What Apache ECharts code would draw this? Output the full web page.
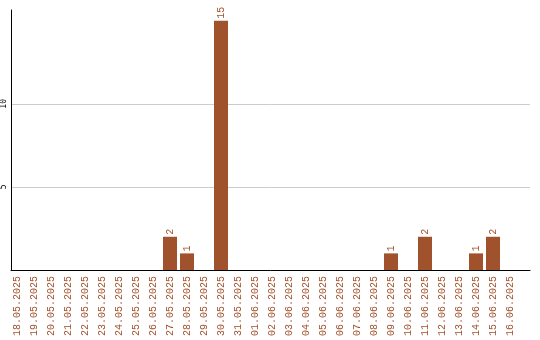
<!DOCTYPE html>
<html><head><meta charset="utf-8">
<script src="https://cdn.jsdelivr.net/npm/echarts@6/dist/echarts.min.js"></script>
<style>html,body{margin:0;padding:0;background:#fff}#c{width:540px;height:340px}</style>
</head><body><div id="c"></div>
<script>
var categories = ["18.05.2025","19.05.2025","20.05.2025","21.05.2025","22.05.2025","23.05.2025","24.05.2025","25.05.2025","26.05.2025","27.05.2025","28.05.2025","29.05.2025","30.05.2025","31.05.2025","01.06.2025","02.06.2025","03.06.2025","04.06.2025","05.06.2025","06.06.2025","07.06.2025","08.06.2025","09.06.2025","10.06.2025","11.06.2025","12.06.2025","13.06.2025","14.06.2025","15.06.2025","16.06.2025"];
var values = [0,0,0,0,0,0,0,0,0,2,1,0,15,0,0,0,0,0,0,0,0,0,1,0,2,0,0,1,2,0];
var yTicks = [5,10];

var brown = '#A0522D';
var yMax = 15.65;
var plotTop = 10, plotH = 260;
var tickMax = yTicks[yTicks.length-1];
var tickH = plotH * tickMax / yMax;
var chart = echarts.init(document.getElementById('c'));
chart.setOption({
  animation:false,
  backgroundColor:'#fff',
  grid:[
    {left:8.5, top:plotTop, width:510, height:plotH},
    {left:11, top:plotTop, right:10, height:plotH},
    {left:11, top:plotTop + plotH - tickH, right:10, height:tickH}
  ],
  xAxis:[
    {type:'category', gridIndex:0, data:categories,
     axisLine:{show:false}, axisTick:{show:false},
     axisLabel:{rotate:90, interval:0, color:brown, fontFamily:'Liberation Mono', fontSize:10, margin:6}},
    {type:'value', gridIndex:1, min:0, max:1, position:'bottom',
     axisLine:{show:true, onZero:false, lineStyle:{color:'#000', width:1}},
     axisTick:{show:false}, axisLabel:{show:false}, splitLine:{show:false}},
    {type:'value', gridIndex:2, min:0, max:1, show:false}
  ],
  yAxis:[
    {type:'value', gridIndex:0, min:0, max:yMax, show:false},
    {type:'value', gridIndex:1, min:0, max:yMax,
     axisLine:{show:true, lineStyle:{color:'#000', width:1}},
     axisTick:{show:false}, axisLabel:{show:false}, splitLine:{show:false}},
    {type:'value', gridIndex:2, min:0, max:tickMax, interval:5,
     axisLine:{show:false}, axisTick:{show:false},
     axisLabel:{rotate:90, margin:3, color:'#000', fontFamily:'DejaVu Sans Mono', fontSize:8,
       formatter:function(v){return yTicks.indexOf(v)>=0 ? String(v) : '';}},
     splitLine:{show:true, lineStyle:{color:'#cccccc', width:1}}}
  ],
  series:[{
    type:'bar', xAxisIndex:0, yAxisIndex:0, data:values, barWidth:14,
    itemStyle:{color:brown},
    label:{show:true, position:'top', rotate:90, align:'left', verticalAlign:'middle', distance:2,
      color:brown, fontFamily:'Liberation Mono', fontSize:10,
      formatter:function(p){return p.value>0 ? String(p.value) : '';}}
  }]
});
</script></body></html>
